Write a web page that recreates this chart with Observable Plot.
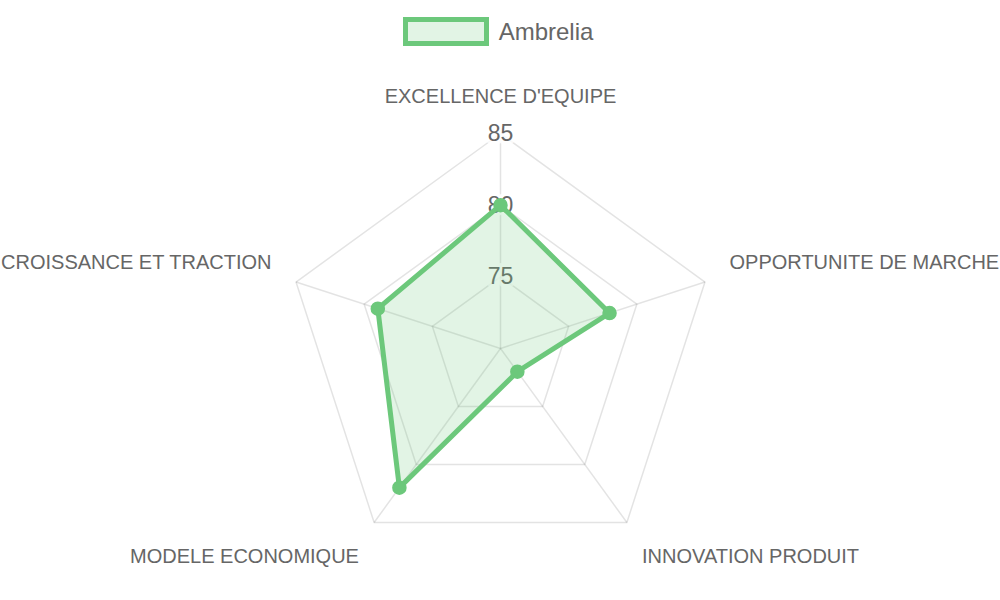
<!DOCTYPE html>
<html><head><meta charset="utf-8">
<script src="https://cdn.jsdelivr.net/npm/d3@7"></script>
<script src="https://cdn.jsdelivr.net/npm/@observablehq/plot@0.6"></script>
<style>
body{margin:0;background:#fff;font-family:"Liberation Sans",Arial,Helvetica,sans-serif;}
#legend{height:60px;display:flex;justify-content:center;align-items:flex-start;padding-right:4px;}
#legend .box{box-sizing:content-box;margin-top:17px;width:76px;height:19px;border:5px solid #6cc87b;background:rgba(108,200,123,0.2);}
#legend .lbl{margin-top:17px;margin-left:10px;font-size:24px;line-height:29px;color:#666;}
#chart svg{display:block;}
</style></head>
<body>
<div id="legend"></div>
<div id="chart"></div>
<script>
const categories = ["EXCELLENCE D'EQUIPE","OPPORTUNITE DE MARCHE","INNOVATION PRODUIT","MODELE ECONOMIQUE","CROISSANCE ET TRACTION"];
const values = [80, 78, 72, 82, 79];
const tickValues = [75, 80, 85];
const scaleMin = 70, scaleMax = 85;
const seriesName = "Ambrelia";
const lineColor = "#6cc87b";

const cx = 500, cy = 288, R = 215;
const n = categories.length;
const angle = i => 2 * Math.PI * i / n;
const norm = v => (v - scaleMin) / (scaleMax - scaleMin);
const pt = (i, r) => ({x: r * Math.sin(angle(i)), y: r * Math.cos(angle(i))});

const series = categories.map((c, i) => ({category: c, value: values[i], ...pt(i, norm(values[i]))}));
const rings = tickValues.flatMap(t => categories.map((c, i) => ({tick: t, ...pt(i, norm(t))})));
const spokes = categories.map((c, i) => ({category: c, ...pt(i, 1)}));
const tickLabels = tickValues.map(t => ({tick: t, x: 0, y: norm(t)}));
const labelR = 1.12;
const pointLabels = categories.map((c, i) => {
  const s = Math.sin(angle(i)), co = Math.cos(angle(i));
  return {category: c, ...pt(i, labelR),
    anchor: Math.abs(s) < 1e-6 ? "middle" : (s > 0 ? "start" : "end"),
    line: co >= 0 ? "bottom" : "top"};
});

const font = '"Liberation Sans", Arial, Helvetica, sans-serif';
const combos = [["middle","bottom"],["start","bottom"],["end","bottom"],["start","top"],["end","top"],["middle","top"]];
const labelMarks = combos.map(([a, l]) => Plot.text(pointLabels.filter(d => d.anchor === a && d.line === l), {
  x: "x", y: "y", text: "category", textAnchor: a, lineAnchor: l, dy: l === "bottom" ? -5 : 5,
  fontSize: 20, fill: "#666", fontFamily: font
}));

const chart = Plot.plot({
  width: 1000, height: 540, margin: 0,
  x: {domain: [-1, 1], range: [cx - R, cx + R], axis: null},
  y: {domain: [-1, 1], range: [cy + R, cy - R], axis: null},
  style: {fontFamily: font, background: "#fff"},
  marks: [
    Plot.link(spokes, {x1: 0, y1: 0, x2: "x", y2: "y", stroke: "#000", strokeOpacity: 0.11, strokeWidth: 1.5}),
    Plot.line(rings, {x: "x", y: "y", z: "tick", curve: "linear-closed", stroke: "#000", strokeOpacity: 0.11, strokeWidth: 1.5}),
    Plot.text(tickLabels, {x: "x", y: "y", text: d => String(d.tick), fontSize: 23, fill: "#666", stroke: "white", strokeOpacity: 0.75, strokeWidth: 8, fontFamily: font}),
    Plot.line(series, {x: "x", y: "y", curve: "linear-closed", fill: lineColor, fillOpacity: 0.2, stroke: lineColor, strokeWidth: 5, strokeLinejoin: "miter"}),
    Plot.dot(series, {x: "x", y: "y", r: 6.5, fill: lineColor, stroke: lineColor}),
    ...labelMarks
  ]
});
document.getElementById("chart").appendChild(chart);

const legend = document.getElementById("legend");
const box = document.createElement("span"); box.className = "box";
const lbl = document.createElement("span"); lbl.className = "lbl"; lbl.textContent = seriesName;
legend.appendChild(box); legend.appendChild(lbl);
</script>
</body></html>
